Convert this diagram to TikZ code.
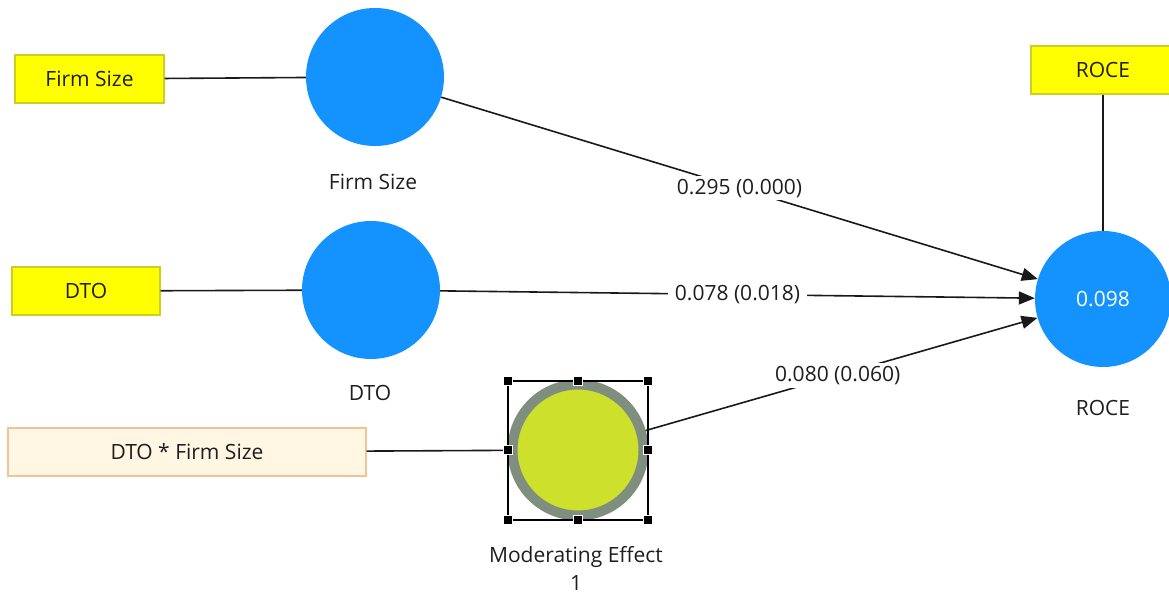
\documentclass[tikz,border=0pt]{standalone}
\usepackage{fontspec}
\setmainfont{Open Sans}
\usetikzlibrary{arrows.meta}
\definecolor{lvblue}{RGB}{20,147,255}
\definecolor{indyel}{RGB}{255,255,0}
\definecolor{indyelb}{RGB}{205,205,40}
\definecolor{creamf}{RGB}{255,246,228}
\definecolor{creamb}{RGB}{240,196,150}
\definecolor{ringgray}{RGB}{128,142,128}
\definecolor{limef}{RGB}{204,224,44}
\definecolor{txt}{RGB}{30,30,30}
\definecolor{linec}{RGB}{25,25,25}
\begin{document}
\begin{tikzpicture}[x=1pt,y=-1pt,
  every node/.style={font=\fontsize{21}{28}\selectfont, text=txt},
  indbox/.style={draw=indyelb, fill=indyel, line width=1.2pt, minimum height=48pt, inner sep=0pt},
  intbox/.style={draw=creamb, fill=creamf, line width=1.2pt, minimum height=48pt, inner sep=0pt},
  lv/.style={circle, fill=lvblue, minimum size=138pt, inner sep=0pt},
  lbl/.style={align=center, inner sep=0pt},
  conn/.style={draw=linec, line width=1.6pt},
  path/.style={conn, -{Triangle[length=16pt,width=13pt]}},
  coef/.style={fill=white, inner xsep=7pt, inner ysep=3pt, pos=0.5},
  handle/.style={fill=black, draw=white, line width=0.6pt, minimum size=9pt, inner sep=0pt, rectangle}
]
\useasboundingbox (0,0) rectangle (1169,594);
\begin{scope}
\clip (0,0) rectangle (1169,594);
% indicator boxes
\node[indbox, minimum width=149pt] (fsbox) at (89.5,79) {Firm Size};
\node[indbox, minimum width=148pt] (dtobox) at (86,291) {DTO};
\node[intbox, minimum width=358pt] (intbox) at (187,452) {DTO * Firm Size};
\node[indbox, minimum width=144pt] (rocebox) at (1103,70) {ROCE};
% latent variables
\node[lv] (fs) at (375,77) {};
\node[lv] (dto) at (371,290) {};
\node[lv, minimum size=136pt] (roce) at (1103,299) {\textcolor{white}{0.098}};
\node[circle, draw=ringgray, line width=10pt, fill=limef, minimum size=131pt, inner sep=0pt] (mod) at (578,450) {};
% labels
\node[lbl] (fslbl) at (373,182) {Firm Size};
\node[lbl] (dtolbl) at (370,393) {DTO};
\node[lbl] (rocelbl) at (1103,408) {ROCE};
\node[lbl] (modlbl) at (576,568) {Moderating Effect\\1};
% measurement lines
\draw[conn] (fsbox) -- (fs);
\draw[conn] (dtobox) -- (dto);
\draw[conn] (intbox) -- (mod);
\draw[conn] (rocebox.south) -- (roce);
% structural paths
\draw[path] (fs) -- node[coef] {0.295 (0.000)} (roce);
\draw[path] (dto) -- node[coef] {0.078 (0.018)} (roce);
\draw[path] (mod) -- node[coef, pos=0.49] {0.080 (0.060)} (roce);
% selection frame
\draw[black, line width=1.4pt] (508,381) rectangle (648,520);
\foreach \hx/\hy [count=\i] in {508/381,578/381,648/381,508/450,648/450,508/520,578/520,648/520}
  \node[handle] (h\i) at (\hx,\hy) {};
\end{scope}
\end{tikzpicture}
\end{document}
